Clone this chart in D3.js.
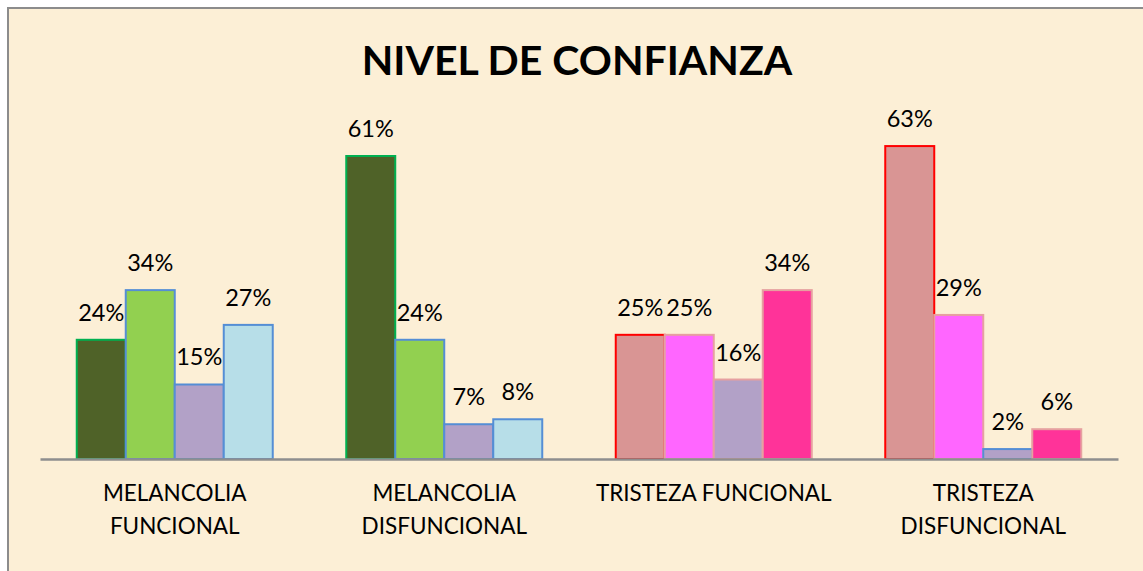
<!DOCTYPE html>
<html>
<head>
<meta charset="utf-8">
<script src="https://cdn.jsdelivr.net/npm/d3@7"></script>
<style>
  html, body { margin: 0; padding: 0; background: #ffffff; }
  svg { display: block; }
</style>
</head>
<body>
<svg id="chart" width="1143" height="571"></svg>
<script>
// ---- data ----
const title = "NIVEL DE CONFIANZA";
const categories = ["MELANCOLIA FUNCIONAL", "MELANCOLIA DISFUNCIONAL", "TRISTEZA FUNCIONAL", "TRISTEZA DISFUNCIONAL"];
const categoryLines = [["MELANCOLIA", "FUNCIONAL"], ["MELANCOLIA", "DISFUNCIONAL"], ["TRISTEZA FUNCIONAL"], ["TRISTEZA", "DISFUNCIONAL"]];
const seriesNames = ["s1", "s2", "s3", "s4"];
const s1 = [24, 61, 25, 63];
const s2 = [34, 24, 25, 29];
const s3 = [15, 7, 16, 2];
const s4 = [27, 8, 34, 6];
const seriesValues = [s1, s2, s3, s4];

// per-category bar fills and outlines (styling)
const fills = [
  ["#4F6228", "#92D050", "#B2A1C7", "#B7DEE8"],
  ["#4F6228", "#92D050", "#B2A1C7", "#B7DEE8"],
  ["#D99594", "#FF66FF", "#B2A1C7", "#FF3399"],
  ["#D99594", "#FF66FF", "#B2A1C7", "#FF3399"]
];
const strokes = [
  ["#00B050", "#558ED5", "#558ED5", "#558ED5"],
  ["#00B050", "#558ED5", "#558ED5", "#558ED5"],
  ["#FF0000", "#E6A0A0", "#E6A0A0", "#E6A0A0"],
  ["#FF0000", "#E6A0A0", "#558ED5", "#E6A0A0"]
];

// ---- layout ----
const svg = d3.select("#chart");
const W = 1143, H = 571;
const font = "Lato, 'Open Sans', sans-serif";

// background & border
svg.append("rect").attr("x", 8).attr("y", 8).attr("width", W + 20).attr("height", H + 20)
  .attr("fill", "#FCEFD6").attr("stroke", "#8C8C8C").attr("stroke-width", 2);

const x0 = d3.scaleBand().domain(categories).range([40, 1118]).paddingInner(0.2727).paddingOuter(0.13635);
const x1 = d3.scaleBand().domain(seriesNames).range([0, x0.bandwidth()]);
const y = d3.scaleLinear().domain([0, 70]).range([459, 111.3]);

// title
svg.append("text").attr("x", 577).attr("y", 75).attr("text-anchor", "middle")
  .attr("font-family", font).attr("font-weight", 700).attr("font-size", 41)
  .attr("fill", "#000").text(title);

// bars (series order: later series drawn over earlier)
const barData = [];
seriesNames.forEach((s, si) => {
  categories.forEach((c, ci) => {
    barData.push({ s, si, c, ci, v: seriesValues[si][ci] });
  });
});

svg.append("g").selectAll("rect").data(barData).join("rect")
  .attr("x", d => x0(d.c) + x1(d.s))
  .attr("y", d => y(d.v))
  .attr("width", x1.bandwidth())
  .attr("height", d => y(0) - y(d.v))
  .attr("fill", d => fills[d.ci][d.si])
  .attr("stroke", d => strokes[d.ci][d.si])
  .attr("stroke-width", 2);

// axis
const axis = svg.append("g").attr("transform", "translate(0,459)")
  .call(d3.axisBottom(x0).tickSize(0).tickSizeOuter(0).tickFormat(""));
axis.select(".domain").attr("stroke", "#8E8E8E").attr("stroke-width", 2.5);
axis.selectAll(".tick").each(function(d, i) {
  const t = d3.select(this).append("text")
    .attr("fill", "#000").attr("font-family", font).attr("font-size", 22.5)
    .attr("text-anchor", "middle");
  categoryLines[i].forEach((ln, li) => {
    t.append("tspan").attr("x", 0).attr("y", 42 + li * 33).text(ln);
  });
});

// value labels
svg.append("g").selectAll("text").data(barData).join("text")
  .attr("x", d => x0(d.c) + x1(d.s) + x1.bandwidth() / 2)
  .attr("y", d => y(d.v) - 19)
  .attr("text-anchor", "middle")
  .attr("font-family", font).attr("font-size", 23.5).attr("fill", "#000")
  .text(d => d.v + "%");
</script>
</body>
</html>
